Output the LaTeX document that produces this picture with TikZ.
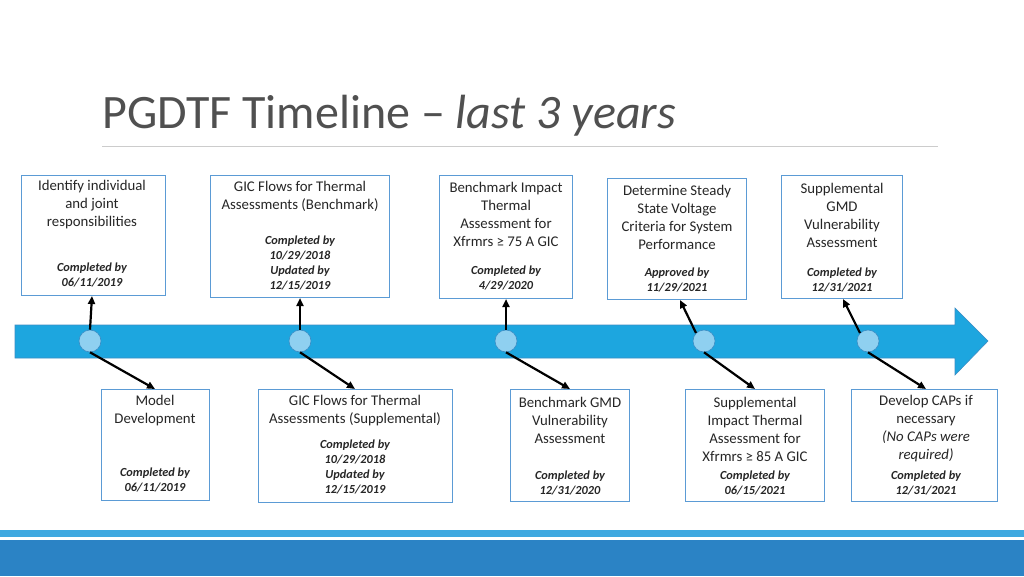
\documentclass[tikz,border=0pt]{standalone}
\usepackage{fontspec}
\setmainfont{Carlito}
\usetikzlibrary{arrows.meta}
\definecolor{band}{HTML}{1DA6DF}
\definecolor{bandline}{HTML}{3C8DC4}
\definecolor{dot}{HTML}{8FD0F0}
\definecolor{boxc}{HTML}{5B9BD5}
\definecolor{barlight}{HTML}{3FA9E0}
\definecolor{bardark}{HTML}{2B83C5}
\definecolor{titlec}{HTML}{505050}
\begin{document}
\begin{tikzpicture}[x=1pt,y=-1pt,
  bx/.style={draw=boxc,line width=0.8pt},
  mt/.style={font=\fontsize{14.8}{18}\selectfont,align=center,text=black!85,inner sep=0},
  st/.style={font=\fontsize{12.3}{15}\selectfont\bfseries\itshape,align=center,text=black!85,inner sep=0},
  dotc/.style={circle,fill=dot,draw=bandline,line width=0.6pt,minimum size=22pt,inner sep=0},
  conn/.style={line width=2.2pt,-{Triangle[length=8pt,width=7pt]}}]
\useasboundingbox (0,0) rectangle (1024,576);
\fill[white] (0,0) rectangle (1024,576);
\node[anchor=base west,inner sep=0,text=titlec,font=\fontsize{48}{52}\selectfont] (title) at (102,128) {PGDTF Timeline -- \textit{last 3 years}};
\draw[black!20,line width=0.8pt] (102,146) -- (938,146);
% band
\draw[fill=band,draw=bandline,line width=0.6pt] (15,325) -- (955,325) -- (955,308) -- (988,341) -- (955,375) -- (955,358) -- (15,358) -- cycle;
\foreach \n/\x in {1/90,2/300,3/506,4/704,5/868}{\node[dotc] (d\n) at (\x,341) {};}
% bottom bars
\fill[barlight] (0,530) rectangle (1024,537);
\fill[bardark] (0,540) rectangle (1024,576);
% top boxes
\draw[bx] (21,175) rectangle (165,295); \coordinate (t1) at (92,296);
\node[mt] (a1) at (92,205) {Identify individual\\and joint\\responsibilities};
\node[st] (b1) at (92,275) {Completed by\\06/11/2019};
\draw[bx] (210,175) rectangle (389,297); \coordinate (t2) at (300,298);
\node[mt] (a2) at (300,196) {GIC Flows for Thermal\\Assessments (Benchmark)};
\node[st] (b2) at (300,263) {Completed by\\10/29/2018\\Updated by\\12/15/2019};
\draw[bx] (439,175) rectangle (572,298); \coordinate (t3) at (506,299);
\node[mt] (a3) at (506,214) {Benchmark Impact\\Thermal\\Assessment for\\Xfrmrs ≥ 75 A GIC};
\node[st] (b3) at (506,278) {Completed by\\4/29/2020};
\draw[bx] (607,178) rectangle (746,299); \coordinate (t4) at (680,300);
\node[mt] (a4) at (677,217) {Determine Steady\\State Voltage\\Criteria for System\\Performance};
\node[st] (b4) at (677,280) {Approved by\\11/29/2021};
\draw[bx] (781,175) rectangle (902,298); \coordinate (t5) at (843,299);
\node[mt] (a5) at (842,215) {Supplemental\\GMD\\Vulnerability\\Assessment};
\node[st] (b5) at (842,280) {Completed by\\12/31/2021};
% bottom boxes
\draw[bx] (101,389) rectangle (209,500); \coordinate (u1) at (155,389);
\node[mt] (c1) at (155,411) {Model\\Development};
\node[st] (e1) at (155,480) {Completed by\\06/11/2019};
\draw[bx] (258,389) rectangle (452,502); \coordinate (u2) at (355,389);
\node[mt] (c2) at (355,411) {GIC Flows for Thermal\\Assessments (Supplemental)};
\node[st] (e2) at (355,467) {Completed by\\10/29/2018\\Updated by\\12/15/2019};
\draw[bx] (510,389) rectangle (629,501); \coordinate (u3) at (570,389);
\node[mt] (c3) at (570,420) {Benchmark GMD\\Vulnerability\\Assessment};
\node[st] (e3) at (570,483) {Completed by\\12/31/2020};
\draw[bx] (685,389) rectangle (824,501); \coordinate (u4) at (755,389);
\node[mt] (c4) at (755,429) {Supplemental\\Impact Thermal\\Assessment for\\Xfrmrs ≥ 85 A GIC};
\node[st] (e4) at (755,483) {Completed by\\06/15/2021};
\draw[bx] (851,389) rectangle (997,501); \coordinate (u5) at (926,389);
\node[mt] (c5) at (926,429) {Develop CAPs if\\necessary\\\textit{(No CAPs were}\\\textit{required)}};
\node[st] (e5) at (926,483) {Completed by\\12/31/2021};
% connectors
\draw[conn] (d1.north) -- (t1);
\draw[conn] (d2.north) -- (t2);
\draw[conn] (d3.north) -- (t3);
\draw[conn] (d4.north west) -- (t4);
\draw[conn] (d5.north west) -- (t5);
\draw[conn] (d1.south) -- (u1);
\draw[conn] (d2.south) -- (u2);
\draw[conn] (d3.south) -- (u3);
\draw[conn] (d4.south) -- (u4);
\draw[conn] (d5.south) -- (u5);
\end{tikzpicture}
\end{document}
